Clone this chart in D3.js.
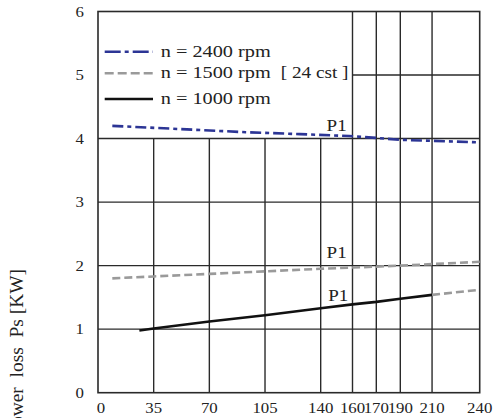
<!DOCTYPE html>
<html><head><meta charset="utf-8">
<script src="https://cdn.jsdelivr.net/npm/d3@7"></script>
<style>body{margin:0;background:#fff}svg{display:block}text{font-family:"Liberation Serif","Times New Roman",serif;fill:#222}</style>
</head><body>
<script>
// ---- data ----
const xTicks = [0,35,70,105,140,160,170,190,210,240];
const yTicks = [0,1,2,3,4,5,6];
const xLow = [35,70,105,140];          // vertical grid up to 4 only
const xHigh = [160,170,190,210];       // vertical grid full height
const x2400 = [9,93,127,158,170,190,240];
const y2400 = [4.20,4.10,4.07,4.04,4.01,3.98,3.94];
const x1500 = [9,35,70,105,140,160,190,240];
const y1500 = [1.80,1.83,1.87,1.91,1.95,1.97,2.00,2.06];
const x1000 = [26,35,70,105,140,160,170,190,210];
const y1000 = [0.98,1.01,1.12,1.22,1.33,1.39,1.43,1.48,1.54];
const x1000ext = [210,240];
const y1000ext = [1.54,1.62];
const legendLabels = ["n = 2400 rpm","n = 1500 rpm","n = 1000 rpm"];
const legendNote = "[ 24 cst ]";
const p1X = [150,150,151];
const p1Y = [4.12,2.12,1.44];
const yTitle = "Power  loss  Ps [KW]";

const W=493,H=418;
const svg=d3.select("body").append("svg").attr("width",W).attr("height",H);
const x=d3.scaleLinear().domain([0,160,170,190,240]).range([98,352.5,376.3,400.3,479.7]);
const y=d3.scaleLinear().domain([0,6]).range([392.7,11.5]);
const gridC="#2a2a2a", gw=1.4;

const g=svg.append("g");
[1,2,3,4].forEach(v=>g.append("line").attr("x1",x(0)).attr("x2",x(240)).attr("y1",y(v)).attr("y2",y(v)).attr("stroke",gridC).attr("stroke-width",gw));
g.append("line").attr("x1",x(160)).attr("x2",x(240)).attr("y1",y(5)).attr("y2",y(5)).attr("stroke",gridC).attr("stroke-width",gw);
xLow.forEach(v=>g.append("line").attr("x1",x(v)).attr("x2",x(v)).attr("y1",y(0)).attr("y2",y(4)).attr("stroke",gridC).attr("stroke-width",gw));
xHigh.forEach(v=>g.append("line").attr("x1",x(v)).attr("x2",x(v)).attr("y1",y(0)).attr("y2",y(6)).attr("stroke",gridC).attr("stroke-width",gw));
g.append("rect").attr("x",x(0)).attr("y",y(6)).attr("width",x(240)-x(0)).attr("height",y(0)-y(6)).attr("fill","none").attr("stroke",gridC).attr("stroke-width",1.6);

const sx=1.12;
xTicks.forEach(v=>svg.append("text").attr("transform",`translate(${x(v)+(v===0?3:0)},413) scale(${sx},1)`).attr("text-anchor","middle").attr("font-size",15).text(v));
yTicks.forEach(v=>svg.append("text").attr("transform",`translate(84,${y(v)+5}) scale(${sx},1)`).attr("text-anchor","end").attr("font-size",15).text(v));

svg.append("text").attr("transform","translate(23,269) rotate(-90) scale(1.08,1)").attr("text-anchor","end").attr("font-size",18).style("white-space","pre").text(yTitle);

const line=d3.line().x(d=>x(d[0])).y(d=>y(d[1]));
const styles=[
 {c:"#2c3595",dash:"11,4,4,4",w:2.6},
 {c:"#9a9a9a",dash:"8,4",w:2.6},
 {c:"#111",dash:null,w:2.6}
];
const series=[d3.zip(x2400,y2400),d3.zip(x1500,y1500),d3.zip(x1000,y1000)];
series.forEach((s,i)=>{
  const p=svg.append("path").attr("d",line(s)).attr("fill","none").attr("stroke",styles[i].c).attr("stroke-width",styles[i].w);
  if(styles[i].dash)p.attr("stroke-dasharray",styles[i].dash);
});
svg.append("path").attr("d",line(d3.zip(x1000ext,y1000ext))).attr("fill","none").attr("stroke",styles[1].c).attr("stroke-width",styles[1].w).attr("stroke-dasharray",styles[1].dash);

p1X.forEach((v,i)=>svg.append("text").attr("transform",`translate(${x(v)},${y(p1Y[i])}) scale(${sx},1)`).attr("text-anchor","middle").attr("font-size",17).text("P1"));

const ly=[51.7,73.3,99], lb=[56.7,78.3,104];
legendLabels.forEach((t,i)=>{
  const l=svg.append("line").attr("x1",104.7).attr("x2",153).attr("y1",ly[i]).attr("y2",ly[i]).attr("stroke",styles[i].c).attr("stroke-width",2.6);
  if(i===0)l.attr("stroke-dasharray","16,4,4,4");
  if(i===1)l.attr("stroke-dasharray","9,4");
  svg.append("text").attr("transform",`translate(160.7,${lb[i]}) scale(1.16,1)`).attr("font-size",17.5).text(t);
});
svg.append("text").attr("transform",`translate(280.7,${lb[1]}) scale(1.1,1)`).attr("font-size",17.5).text(legendNote);
</script>
</body></html>
